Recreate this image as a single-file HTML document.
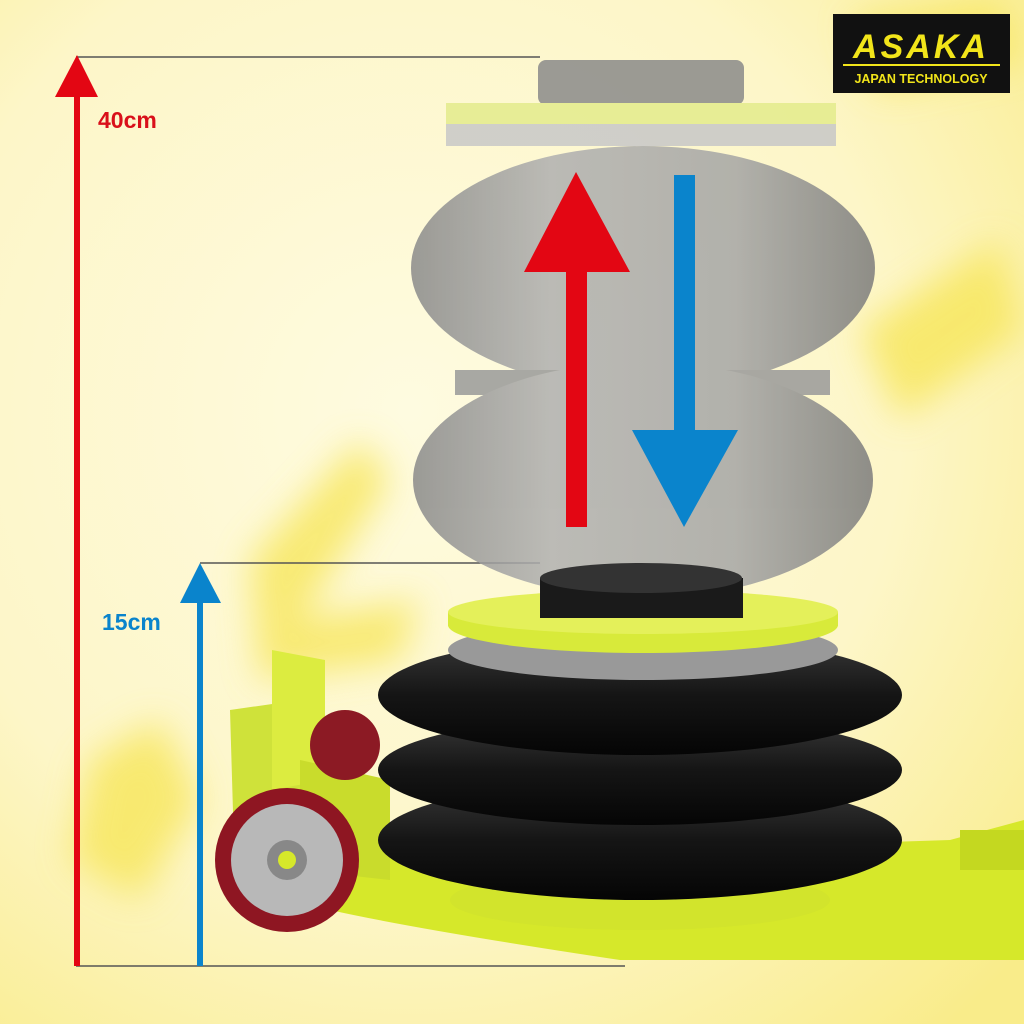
<!DOCTYPE html>
<html><head><meta charset="utf-8"><style>
html,body{margin:0;padding:0;width:1024px;height:1024px;overflow:hidden;background:#fdf9d8}
</style></head><body>
<svg width="1024" height="1024" viewBox="0 0 1024 1024" xmlns="http://www.w3.org/2000/svg">
<defs>
<radialGradient id="bg" cx="0.4" cy="0.4" r="0.8">
<stop offset="0" stop-color="#fefbe0"/><stop offset="0.6" stop-color="#fdf6c8"/><stop offset="1" stop-color="#f9ec8a"/>
</radialGradient>
<filter id="blur"><feGaussianBlur stdDeviation="18"/></filter>
<linearGradient id="gb" x1="0" x2="1"><stop offset="0" stop-color="#8a8a8a"/><stop offset="0.3" stop-color="#b0b0b0"/><stop offset="0.7" stop-color="#a5a5a5"/><stop offset="1" stop-color="#7c7c7c"/></linearGradient>
<linearGradient id="bk" x1="0" y1="0" x2="0" y2="1"><stop offset="0" stop-color="#3a3a3a"/><stop offset="0.5" stop-color="#151515"/><stop offset="1" stop-color="#050505"/></linearGradient>
</defs>
<rect width="1024" height="1024" fill="url(#bg)"/>
<g filter="url(#blur)" fill="#f7e65a" opacity="0.8">
<path d="M90 760 L160 720 L200 800 L140 900 L70 860Z"/>
<path d="M250 560 L360 440 L390 480 L300 620 L420 600 L400 660 L260 680Z"/>
<path d="M860 330 L1000 240 L1024 330 L900 420Z"/>
<path d="M850 20 L1000 0 L1024 60 L880 90Z"/>
</g>
<line x1="76" y1="57" x2="540" y2="57" stroke="#555" stroke-width="1.5"/>
<line x1="200" y1="563" x2="540" y2="563" stroke="#555" stroke-width="1.5"/>
<line x1="76" y1="966" x2="625" y2="966" stroke="#555" stroke-width="1.5"/>
<rect x="74" y="88" width="6" height="878" fill="#e30613"/>
<polygon points="77,55 55,97 98,97" fill="#e30613"/>
<rect x="197" y="598" width="6" height="368" fill="#0a84cc"/>
<polygon points="200,563 180,603 221,603" fill="#0a84cc"/>
<text x="98" y="128" font-family="Liberation Sans,sans-serif" font-weight="bold" font-size="23" fill="#d9101a">40cm</text>
<text x="102" y="630" font-family="Liberation Sans,sans-serif" font-weight="bold" font-size="23" fill="#0a84cc">15cm</text>
<g opacity="0.85">
<rect x="538" y="60" width="206" height="45" rx="8" fill="#8a8a8a"/>
<rect x="446" y="103" width="390" height="22" fill="#e4ec8c"/>
<rect x="446" y="124" width="390" height="22" fill="#c8c8c8"/>
<ellipse cx="643" cy="268" rx="232" ry="122" fill="url(#gb)"/>
<rect x="455" y="370" width="375" height="25" fill="#9a9a9a"/>
<ellipse cx="643" cy="480" rx="230" ry="118" fill="url(#gb)"/>
</g>
<rect x="566" y="265" width="21" height="262" fill="#e30613"/>
<polygon points="576,172 524,272 630,272" fill="#e30613"/>
<rect x="674" y="175" width="21" height="260" fill="#0a84cc"/>
<polygon points="684,527 632,430 738,430" fill="#0a84cc"/>
<path d="M330 860 L950 840 L1024 820 L1024 960 L620 960 Q420 930 330 910Z" fill="#d6e82a"/>
<rect x="960" y="830" width="64" height="40" fill="#c4d820"/>
<path d="M230 710 L300 700 L300 860 L235 880Z" fill="#cfe23a"/>
<path d="M272 650 L325 660 L325 780 L272 790Z" fill="#dcec40"/>
<path d="M300 760 L390 780 L390 880 L300 870Z" fill="#c9dc2c"/>
<circle cx="345" cy="745" r="35" fill="#8c1a24"/>
<circle cx="287" cy="860" r="72" fill="#8e1622"/>
<circle cx="287" cy="860" r="56" fill="#b8b8b8"/>
<circle cx="287" cy="860" r="20" fill="#888"/>
<circle cx="287" cy="860" r="9" fill="#d6e82a"/>
<ellipse cx="640" cy="900" rx="190" ry="30" fill="#d2e42c"/>
<ellipse cx="640" cy="840" rx="262" ry="60" fill="url(#bk)"/>
<ellipse cx="640" cy="770" rx="262" ry="55" fill="url(#bk)"/>
<ellipse cx="640" cy="695" rx="262" ry="60" fill="url(#bk)"/>
<ellipse cx="643" cy="650" rx="195" ry="30" fill="#999"/>
<ellipse cx="643" cy="625" rx="195" ry="28" fill="#d8ea3a"/>
<rect x="448" y="612" width="390" height="14" fill="#d8ea3a"/>
<ellipse cx="643" cy="612" rx="195" ry="22" fill="#e4f05a"/>
<rect x="540" y="578" width="203" height="40" fill="#1a1a1a"/>
<ellipse cx="641" cy="578" rx="101" ry="15" fill="#333"/>
<rect x="833" y="14" width="177" height="79" fill="#111"/>
<text x="921" y="58" text-anchor="middle" font-family="Liberation Sans,sans-serif" font-style="italic" font-weight="bold" font-size="34" fill="#f2e51a" letter-spacing="3">ASAKA</text>
<rect x="843" y="64" width="157" height="2" fill="#f2e51a"/>
<text x="921" y="83" text-anchor="middle" font-family="Liberation Sans,sans-serif" font-weight="bold" font-size="12.5" fill="#f2e51a">JAPAN TECHNOLOGY</text>
</svg>
</body></html>
